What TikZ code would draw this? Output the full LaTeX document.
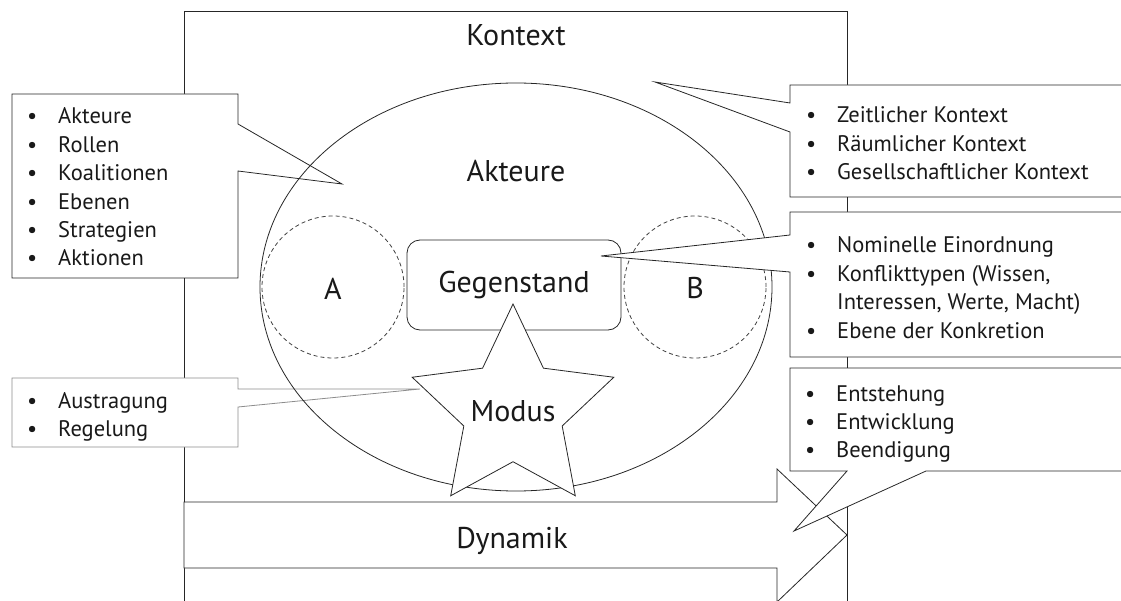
\documentclass[tikz,border=0pt]{standalone}
\usepackage{fontspec}
\setmainfont{PT Sans}
\usetikzlibrary{shapes.geometric}
\newcommand\bitem{\makebox[31pt][l]{•}}
\begin{document}
\begin{tikzpicture}[x=1pt,y=-1pt,
  line/.style={draw=black!85, line width=0.8pt},
  callout/.style={line, fill=white, line join=miter},
  titlefont/.style={font=\fontsize{30}{34}\selectfont, text=black!90},
  title/.style={titlefont, inner sep=0pt},
  list/.style={font=\fontsize{22.5}{28.4}\selectfont, text=black!90, inner sep=0pt, anchor=base west},
  dashcircle/.style={draw=black!75, dash pattern=on 4pt off 3pt, line width=0.8pt, circle, minimum size=142pt, inner sep=0pt}
]
\useasboundingbox (0,0) rectangle (1121,601);
\clip (0,0) rectangle (1121,601);

% Kontext frame
\draw[line] (184,606) -- (184,11) -- (847,11) -- (847,606);
\node[title, anchor=base] (kontext) at (516,46) {Kontext};

% Dynamik arrow
\draw[line, fill=white, line join=miter] (184,502) -- (777,502) -- (777,469) -- (847,535) -- (777,602) -- (777,568) -- (184,568) -- cycle;
\node[title, anchor=base] (dynamik) at (512,548) {Dynamik};

% left callouts
\draw[callout] (12,94) -- (238,94) -- (238,124) -- (342,184) -- (238,171) -- (238,278) -- (12,278) -- cycle;
\node[list] (akteurelist) at (27,124) {\begin{tabular}[t]{@{}l@{}}
\bitem Akteure\\ \bitem Rollen\\ \bitem Koalitionen\\ \bitem Ebenen\\ \bitem Strategien\\ \bitem Aktionen
\end{tabular}};

\draw[callout, draw=black!45] (12,378) -- (238,378) -- (238,389) -- (420,389) -- (238,407) -- (238,447) -- (12,447) -- cycle;
\node[list] (moduslist) at (27,408) {\begin{tabular}[t]{@{}l@{}}
\bitem Austragung\\ \bitem Regelung
\end{tabular}};

% Akteure ellipse
\node[line, ellipse, minimum width=512pt, minimum height=408pt, inner sep=0pt] (akteure) at (516,287) {};
\node[title, anchor=base] (akteurelabel) at (516,182) {Akteure};

% parties A and B
\node[dashcircle] (a) at (333,287) {};
\node[dashcircle] (b) at (695,287) {};
\node[title, anchor=base] (alabel) at (333,300) {A};
\node[title, anchor=base] (blabel) at (695,299) {B};

% Gegenstand
\node[line, fill=white, rounded corners=13pt, minimum width=214pt, minimum height=90pt, inner sep=0pt, titlefont] (gegenstand) at (514,285) {Gegenstand};

% Modus star
\node[line, fill=white, star, star points=5, star point ratio=2.05, minimum size=212pt, inner sep=0pt] (modus) at (513,410) {};
\node[title, anchor=base] (moduslabel) at (modus.center) [yshift=-11pt] {Modus};

% right callouts
\draw[callout] (1125,85) -- (790,85) -- (790,103) -- (655,82) -- (790,132) -- (790,197) -- (1125,197);
\node[list] (kontextlist) at (806,123) {\begin{tabular}[t]{@{}l@{}}
\bitem Zeitlicher Kontext\\ \bitem Räumlicher Kontext\\ \bitem Gesellschaftlicher Kontext
\end{tabular}};

\draw[callout] (1125,212) -- (790,212) -- (790,235) -- (601,256) -- (790,272) -- (790,357) -- (1125,357);
\node[list] (gegenstandlist) at (806,253) {\begin{tabular}[t]{@{}l@{}}
\bitem Nominelle Einordnung\\ \bitem Konflikttypen (Wissen,\\ \hspace*{31pt}Interessen, Werte, Macht)\\ \bitem Ebene der Konkretion
\end{tabular}};

\draw[callout] (1125,368) -- (790,368) -- (790,471) -- (847,471) -- (794,531) -- (926,471) -- (1125,471);
\node[list] (dynamiklist) at (805,401) {\begin{tabular}[t]{@{}l@{}}
\bitem Entstehung\\ \bitem Entwicklung\\ \bitem Beendigung
\end{tabular}};
\end{tikzpicture}
\end{document}
